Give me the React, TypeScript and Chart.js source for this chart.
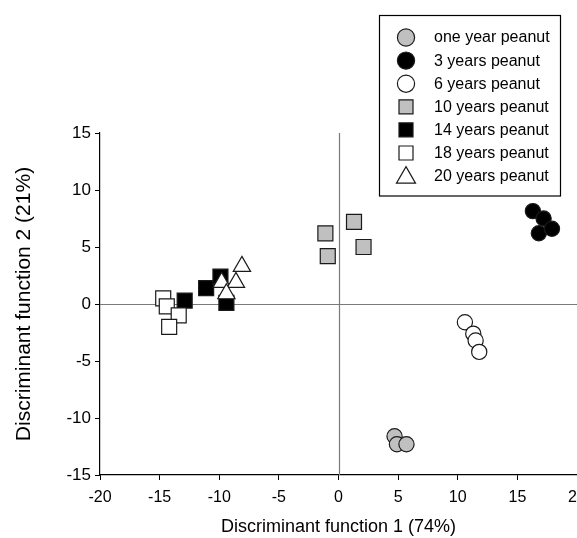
import React, { useEffect, useRef } from "react";
import { Chart, registerables } from "chart.js";

Chart.register(...registerables);

// Data (Discriminant function 1, Discriminant function 2)
const seriesNames = [
  "one year peanut",
  "3 years peanut",
  "6 years peanut",
  "10 years peanut",
  "14 years peanut",
  "18 years peanut",
  "20 years peanut",
];
const oneYear = [[4.7, -11.6], [4.9, -12.3], [5.7, -12.3]];
const threeYears = [[16.3, 8.15], [17.2, 7.5], [16.8, 6.2], [17.9, 6.6]];
const sixYears = [[10.6, -1.6], [11.3, -2.6], [11.5, -3.2], [11.8, -4.2]];
const tenYears = [[-1.1, 6.2], [-0.9, 4.2], [1.3, 7.2], [2.1, 5.0]];
const fourteenYears = [[-12.9, 0.3], [-11.1, 1.4], [-9.9, 2.4], [-9.4, 0.1]];
const eighteenYears = [[-14.7, 0.5], [-14.4, -0.2], [-13.4, -1.0], [-14.2, -2.0]];
const twentyYears = [[-8.1, 3.3], [-9.8, 1.9], [-8.6, 1.9], [-9.4, 0.9]];

const xTitle = "Discriminant function 1 (74%)";
const yTitle = "Discriminant function 2 (21%)";
const xMin = -20, xMax = 20, yMin = -15, yMax = 15, tickStep = 5;

const GREY = "#c0c0c0";
const EDGE = "#1a1a1a";

const styles = [
  { shape: "circle", fill: GREY, r: 7.6 },
  { shape: "circle", fill: "#000000", r: 7.6 },
  { shape: "circle", fill: "#ffffff", r: 7.6 },
  { shape: "rect", fill: GREY, r: 10.6 },
  { shape: "rect", fill: "#000000", r: 10.6 },
  { shape: "rect", fill: "#ffffff", r: 10.6 },
  { shape: "triangle", fill: "#ffffff", r: 10 },
];
const allSeries = [oneYear, threeYears, sixYears, tenYears, fourteenYears, eighteenYears, twentyYears];

function drawMarker(ctx: CanvasRenderingContext2D, shape: string, x: number, y: number, r: number, fill: string) {
  ctx.beginPath();
  if (shape === "circle") {
    ctx.arc(x, y, r, 0, Math.PI * 2);
  } else if (shape === "rect") {
    ctx.rect(x - r, y - r, 2 * r, 2 * r);
  } else {
    const s = Math.sin(Math.PI / 3) * r;
    ctx.moveTo(x, y - r);
    ctx.lineTo(x + s, y + r / 2);
    ctx.lineTo(x - s, y + r / 2);
    ctx.closePath();
  }
  ctx.fillStyle = fill;
  ctx.fill();
  ctx.lineWidth = 1.2;
  ctx.strokeStyle = EDGE;
  ctx.stroke();
}

const zeroLines = {
  id: "zeroLines",
  beforeDatasetsDraw(chart: any) {
    const { ctx, chartArea, scales } = chart;
    const x0 = Math.round(scales.x.getPixelForValue(0)) + 0.5;
    const y0 = Math.round(scales.y.getPixelForValue(0)) + 0.5;
    ctx.save();
    ctx.strokeStyle = "#7a7a7a";
    ctx.lineWidth = 1.2;
    ctx.beginPath();
    ctx.moveTo(x0, chartArea.top);
    ctx.lineTo(x0, chartArea.bottom);
    ctx.moveTo(chartArea.left, y0);
    ctx.lineTo(chartArea.right, y0);
    ctx.stroke();
    ctx.restore();
  },
};

const boxLegend = {
  id: "boxLegend",
  afterDraw(chart: any) {
    const { ctx } = chart;
    const left = 379.5, top = 15.5, right = 560.5, bottom = 196;
    ctx.save();
    ctx.fillStyle = "#ffffff";
    ctx.fillRect(left, top, right - left, bottom - top);
    ctx.strokeStyle = "#000000";
    ctx.lineWidth = 1.2;
    ctx.strokeRect(left, top, right - left, bottom - top);
    ctx.font = "16px 'Liberation Sans', Arial, sans-serif";
    ctx.textBaseline = "middle";
    ctx.textAlign = "left";
    chart.data.datasets.forEach((ds: any, i: number) => {
      const y = 37.5 + i * 23.1;
      const st = styles[i];
      const lr = st.shape === "circle" ? 8.6 : st.shape === "rect" ? 7 : 11;
      drawMarker(ctx, st.shape, 406, st.shape === "triangle" ? y + 1.5 : y, lr, st.fill);
      ctx.fillStyle = "#000000";
      ctx.fillText(ds.label, 434, y + 0.5);
    });
    ctx.restore();
  },
};

export default function App() {
  const ref = useRef<HTMLCanvasElement | null>(null);
  useEffect(() => {
    document.body.style.margin = "0";
    const canvas = ref.current;
    if (!canvas) return;
    const datasets = allSeries.map((pts, i) => ({
      label: seriesNames[i],
      data: pts.map(([x, y]) => ({ x, y })),
      pointStyle: styles[i].shape,
      pointRadius: styles[i].r,
      pointBackgroundColor: styles[i].fill,
      pointBorderColor: EDGE,
      pointBorderWidth: 1.2,
      showLine: false,
      order: 7 - i,
    }));
    const tickFont = { family: "'Liberation Sans', Arial, sans-serif" };
    const chart = new Chart(canvas, {
      type: "scatter",
      data: { datasets },
      plugins: [zeroLines, boxLegend],
      options: {
        animation: false,
        responsive: false,
        events: [],
        layout: { padding: { top: 133, right: 20, bottom: 0, left: 0 } },
        plugins: { legend: { display: false }, tooltip: { enabled: false } },
        scales: {
          x: {
            type: "linear",
            min: xMin,
            max: xMax,
            afterFit: (s: any) => { s.height = 63; },
            ticks: { stepSize: tickStep, color: "#000", padding: 8, font: { ...tickFont, size: 16 } },
            grid: { drawOnChartArea: false, drawTicks: true, tickLength: 5, color: "#000", lineWidth: 1 },
            border: { display: true, color: "#000", width: 1.2 },
            title: { display: true, text: xTitle, color: "#000", padding: { top: 0, bottom: 0 }, font: { ...tickFont, size: 18 } },
          },
          y: {
            type: "linear",
            min: yMin,
            max: yMax,
            afterFit: (s: any) => { s.width = 100; },
            ticks: { stepSize: tickStep, color: "#000", padding: 4, font: { ...tickFont, size: 17 } },
            grid: { drawOnChartArea: false, drawTicks: true, tickLength: 5, color: "#000", lineWidth: 1 },
            border: { display: true, color: "#000", width: 1.2 },
            title: { display: true, text: yTitle, color: "#000", padding: { top: 12, bottom: 0 }, font: { ...tickFont, size: 21 } },
          },
        },
      },
    } as any);
    return () => chart.destroy();
  }, []);
  return (
    <div style={{ width: 577, height: 538, overflow: "hidden", position: "relative", background: "#fff" }}>
      <canvas ref={ref} width={597} height={538} style={{ display: "block" }} />
    </div>
  );
}
